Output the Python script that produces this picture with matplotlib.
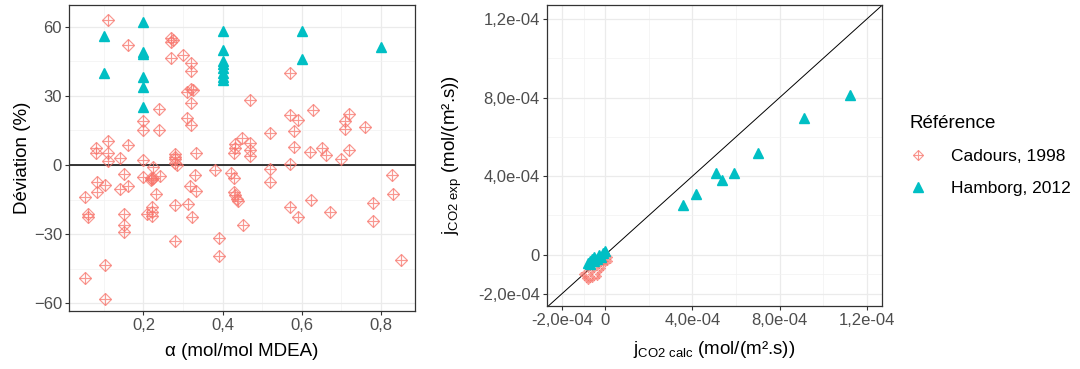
import matplotlib
matplotlib.use("Agg")
import matplotlib.pyplot as plt
from matplotlib.lines import Line2D

plt.rcParams['font.family'] = ['Liberation Sans', 'DejaVu Sans']
plt.rcParams['mathtext.fontset'] = 'custom'
plt.rcParams['mathtext.rm'] = 'Liberation Sans'
plt.rcParams['mathtext.it'] = 'Liberation Sans:italic'

RED = '#F8766D'
TEAL = '#00BFC4'

# --- left panel: deviation (%) vs CO2 loading alpha ---
cad_alpha = [0.111, 0.16, 0.27, 0.27, 0.275, 0.27, 0.30, 0.32, 0.32, 0.31, 0.32, 0.325,
             0.32, 0.47, 0.57, 0.24, 0.20, 0.20, 0.24, 0.31, 0.32, 0.08, 0.08, 0.111,
             0.111, 0.111, 0.141, 0.16, 0.20, 0.28, 0.28, 0.28, 0.28, 0.285, 0.333, 0.43,
             0.43, 0.428, 0.45, 0.47, 0.47, 0.47, 0.52, 0.57, 0.59, 0.58, 0.58, 0.57,
             0.628, 0.62, 0.65, 0.66, 0.70, 0.71, 0.72, 0.71, 0.72, 0.76,
             0.829, 0.83, 0.78, 0.78, 0.85, 0.671, 0.622, 0.57, 0.59, 0.52, 0.52, 0.381,
             0.42, 0.428, 0.428, 0.43, 0.436, 0.44, 0.452, 0.39, 0.39, 0.28, 0.28, 0.312,
             0.322, 0.318, 0.331, 0.333, 0.20, 0.218, 0.222, 0.225, 0.22, 0.225, 0.242,
             0.232, 0.221, 0.208, 0.221, 0.221, 0.052, 0.061, 0.061, 0.082, 0.082, 0.103,
             0.141, 0.16, 0.15, 0.151, 0.151, 0.151, 0.103, 0.052, 0.103]
cad_dev = [63.0, 52.0, 55.0, 53.5, 54.0, 46.3, 47.7, 44.2, 40.6, 31.5, 33.0, 32.5,
           27.0, 28.2, 39.7, 24.5, 19.2, 15.1, 15.1, 20.4, 17.2, 7.5, 5.0, 10.2,
           5.4, 1.7, 3.2, 8.5, 2.0, 4.6, 3.5, 2.5, 0.8, 0.2, 5.4, 9.0,
           7.5, 5.0, 11.9, 9.6, 6.6, 3.8, 13.7, 21.8, 19.5, 14.6, 8.0, 0.3,
           23.9, 5.8, 7.2, 4.4, 2.5, 19.1, 22.0, 15.6, 6.4, 16.5,
           -4.3, -12.6, -16.4, -24.3, -41.0, -20.3, -15.3, -18.4, -22.6, -1.6, -7.3, -2.1,
           -3.3, -5.8, -11.8, -12.8, -14.6, -15.8, -25.9, -31.8, -39.6, -33.0, -17.2, -16.8,
           -22.5, -9.0, -4.4, -11.2, -5.3, -5.5, -6.2, -5.8, -6.5, -0.8, -4.7,
           -12.4, -18.3, -21.1, -22.1, -20.5, -14.0, -21.4, -22.4, -7.2, -11.6, -8.7,
           -10.3, -9.2, -4.1, -21.3, -25.8, -29.1, -43.5, -49.0, -57.9]

ham_alpha = [0.1, 0.1, 0.2, 0.2, 0.2, 0.2, 0.2, 0.2, 0.4, 0.4, 0.4, 0.4, 0.4, 0.4,
             0.4, 0.4, 0.6, 0.6, 0.8]
ham_dev = [56, 40, 62, 49, 48, 38, 34, 25, 58, 50, 45, 44, 42, 40, 38, 37, 58, 46, 51]

# --- right panel: exp vs calc flux, in 1e-5 mol/(m2.s) ---
cad_calc = [-11, -10, -10, -9, -9, -8, -8, -8, -7, -7, -7, -6, -6, -6, -5, -5, -5, -4,
            -4, -4, -3, -3, -3, -2, -2, -2, -1, -1, -1, 0, 0, 0, 1, 1, 1, 2, 2, -9,
            -10, -6, -4, -3, -7, -5]
cad_exp = [-10, -12, -9, -11, -13, -8, -12, -14, -7, -10, -13, -9, -11, -6, -8, -12, -5, -7,
           -10, -4, -6, -9, -3, -5, -8, -2, -4, -7, -1, -3, -5, 0, -2, -4, 1, -1, -3, -7,
           -11, -13, -12, -11, -4, -2]
ham_calc = [35.9, 41.6, 50.9, 53.5, 58.9, 70.3, 91.3, 112.4,
            -8, -7, -7, -6, -5, -5, -4, -3, -2, -1, 0]
ham_exp = [25.2, 30.7, 41.8, 38.0, 41.5, 52.0, 69.4, 81.4,
           -4, -3, -5, -2, -3, -1, -2, 0, -1, 1, 2]

left_xticks = [0.2, 0.4, 0.6, 0.8]
left_xlabels = ['0,2', '0,4', '0,6', '0,8']
left_yticks = [-60, -30, 0, 30, 60]
right_ticks = [-2e-4, 0, 4e-4, 8e-4, 1.2e-3]
right_labels = ['-2,0e-04', '0', '4,0e-04', '8,0e-04', '1,2e-04']

fig = plt.figure(figsize=(10.8, 3.69), dpi=100)
ax1 = fig.add_axes([0.0639, 0.1572, 0.3204, 0.8293])
ax2 = fig.add_axes([0.5062, 0.1715, 0.3102, 0.8149])


def style(ax):
    ax.set_axisbelow(True)
    for s in ax.spines.values():
        s.set_color('#333333')
        s.set_linewidth(0.9)
    ax.grid(True, which='major', color='#EBEBEB', lw=0.9)
    ax.grid(True, which='minor', color='#F2F2F2', lw=0.5)
    ax.tick_params(which='major', direction='out', length=3, width=0.8, color='#333333',
                   labelsize=12, labelcolor='#4D4D4D', pad=2)
    ax.tick_params(which='minor', length=0)


def diamond_plus(ax, x, y, size, lw):
    ax.plot(x, y, ls='none', marker='D', ms=size, mfc='none', mec=RED, mew=lw, alpha=0.75)
    ax.plot(x, y, ls='none', marker='+', ms=size * 1.41, mec=RED, mew=lw, alpha=0.75)


# left
style(ax1)
ax1.axhline(0, color='black', lw=1.1, zorder=1)
diamond_plus(ax1, cad_alpha, cad_dev, 6.3, 0.85)
ax1.plot(ham_alpha, ham_dev, ls='none', marker='^', ms=7.5, color=TEAL)
ax1.set_xlim(0.012, 0.886)
ax1.set_ylim(-63.3, 69.4)
ax1.set_xticks(left_xticks)
ax1.set_xticklabels(left_xlabels)
ax1.set_xticks([0.1, 0.3, 0.5, 0.7], minor=True)
ax1.set_yticks(left_yticks)
ax1.set_yticks([-45, -15, 15, 45], minor=True)
ax1.set_xlabel('α (mol/mol MDEA)', fontsize=13.5, labelpad=7)
ax1.set_ylabel('Déviation (%)', fontsize=13.5, labelpad=2)

# right
style(ax2)
ax2.axline((0, 0), slope=1, color='black', lw=0.7, zorder=1)
diamond_plus(ax2, [v * 1e-5 for v in cad_calc], [v * 1e-5 for v in cad_exp], 2.2, 0.6)
ax2.plot([v * 1e-5 for v in ham_calc], [v * 1e-5 for v in ham_exp], ls='none',
         marker='^', ms=7.5, color=TEAL)
ax2.set_xlim(-2.69e-4, 1.269e-3)
ax2.set_ylim(-2.6e-4, 1.272e-3)
ax2.set_xticks(right_ticks)
ax2.set_xticklabels(right_labels)
ax2.set_yticks(right_ticks)
ax2.set_yticklabels(right_labels)
ax2.set_xticks([-1e-4, 2e-4, 6e-4, 1e-3], minor=True)
ax2.set_yticks([-1e-4, 2e-4, 6e-4, 1e-3], minor=True)
ax2.set_xlabel(r'$\mathrm{j}_{\mathrm{CO2\ calc}}$ (mol/(m².s))', fontsize=13.5, labelpad=8)
ax2.set_ylabel(r'$\mathrm{j}_{\mathrm{CO2\ exp}}$ (mol/(m².s))', fontsize=13.5, labelpad=10)

# legend
h_cad = (Line2D([], [], ls='none', marker='D', ms=5.5, mfc='none', mec=RED, mew=0.8, alpha=0.75),
         Line2D([], [], ls='none', marker='+', ms=7.8, mec=RED, mew=0.8, alpha=0.75))
h_ham = Line2D([], [], ls='none', marker='^', ms=6.5, color=TEAL)
leg = fig.legend([h_cad, h_ham], ['Cadours, 1998', 'Hamborg, 2012'], title='Référence',
                 loc='upper left', bbox_to_anchor=(0.829, 0.725), frameon=False,
                 fontsize=12.5, title_fontsize=13.5, handlelength=1.0, handletextpad=1.4,
                 labelspacing=0.95, borderpad=0.3)
leg._legend_box.align = 'left'

fig.savefig('out.png', dpi=100)
